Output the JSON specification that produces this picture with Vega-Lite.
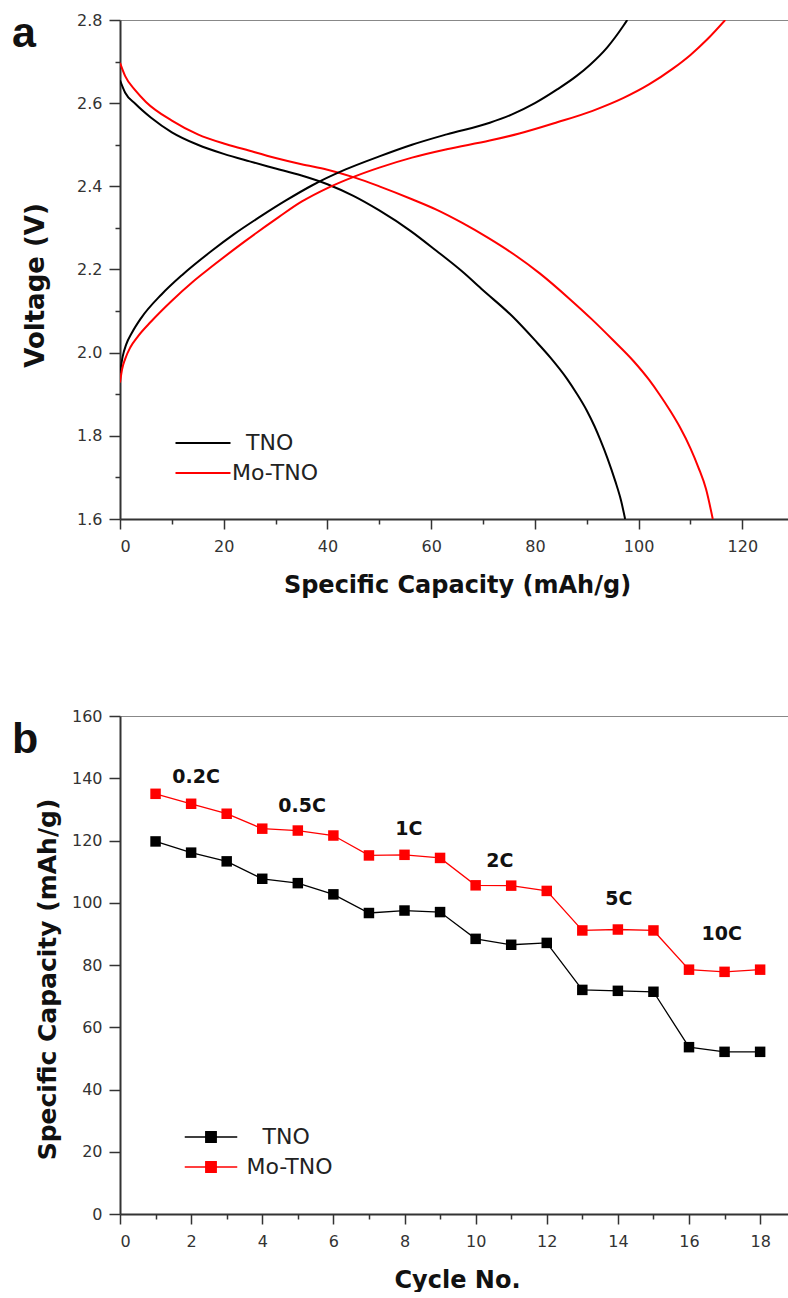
{
  "$schema": "https://vega.github.io/schema/vega-lite/v6.json",
  "background": "white",
  "padding": {"left": 12, "top": 12, "right": 0, "bottom": 0},
  "autosize": {"type": "pad"},
  "config": {
    "view": {"stroke": null},
    "axis": {
      "labelFont": "DejaVu Sans", "labelFontSize": 16, "labelColor": "#333333",
      "titleFont": "DejaVu Sans", "titleFontWeight": "bold", "titleColor": "#111111",
      "domainColor": "#333333", "domainWidth": 2, "tickColor": "#333333", "tickWidth": 1.5,
      "grid": false, "labelPadding": 9
    }
  },
  "datasets": {
    "curves": [
      {"sample": "TNO", "mode": "discharge", "capacity": 0, "voltage": 2.655},
      {"sample": "TNO", "mode": "discharge", "capacity": 1, "voltage": 2.625},
      {"sample": "TNO", "mode": "discharge", "capacity": 3, "voltage": 2.598},
      {"sample": "TNO", "mode": "discharge", "capacity": 6, "voltage": 2.565},
      {"sample": "TNO", "mode": "discharge", "capacity": 10, "voltage": 2.53},
      {"sample": "TNO", "mode": "discharge", "capacity": 15, "voltage": 2.5},
      {"sample": "TNO", "mode": "discharge", "capacity": 20, "voltage": 2.478},
      {"sample": "TNO", "mode": "discharge", "capacity": 25, "voltage": 2.46},
      {"sample": "TNO", "mode": "discharge", "capacity": 30, "voltage": 2.443},
      {"sample": "TNO", "mode": "discharge", "capacity": 35, "voltage": 2.426},
      {"sample": "TNO", "mode": "discharge", "capacity": 40, "voltage": 2.405},
      {"sample": "TNO", "mode": "discharge", "capacity": 45, "voltage": 2.377},
      {"sample": "TNO", "mode": "discharge", "capacity": 50, "voltage": 2.342},
      {"sample": "TNO", "mode": "discharge", "capacity": 56, "voltage": 2.293},
      {"sample": "TNO", "mode": "discharge", "capacity": 61, "voltage": 2.245},
      {"sample": "TNO", "mode": "discharge", "capacity": 66, "voltage": 2.195},
      {"sample": "TNO", "mode": "discharge", "capacity": 70, "voltage": 2.15},
      {"sample": "TNO", "mode": "discharge", "capacity": 75.6, "voltage": 2.088},
      {"sample": "TNO", "mode": "discharge", "capacity": 80, "voltage": 2.03},
      {"sample": "TNO", "mode": "discharge", "capacity": 83, "voltage": 1.988},
      {"sample": "TNO", "mode": "discharge", "capacity": 86.2, "voltage": 1.937},
      {"sample": "TNO", "mode": "discharge", "capacity": 88, "voltage": 1.903},
      {"sample": "TNO", "mode": "discharge", "capacity": 90, "voltage": 1.861},
      {"sample": "TNO", "mode": "discharge", "capacity": 91.5, "voltage": 1.823},
      {"sample": "TNO", "mode": "discharge", "capacity": 92.6, "voltage": 1.791},
      {"sample": "TNO", "mode": "discharge", "capacity": 94, "voltage": 1.746},
      {"sample": "TNO", "mode": "discharge", "capacity": 95.5, "voltage": 1.691},
      {"sample": "TNO", "mode": "discharge", "capacity": 96.6, "voltage": 1.645},
      {"sample": "TNO", "mode": "discharge", "capacity": 97.4, "voltage": 1.6},
      {"sample": "Mo-TNO", "mode": "discharge", "capacity": 0, "voltage": 2.697},
      {"sample": "Mo-TNO", "mode": "discharge", "capacity": 1, "voltage": 2.665},
      {"sample": "Mo-TNO", "mode": "discharge", "capacity": 3, "voltage": 2.63},
      {"sample": "Mo-TNO", "mode": "discharge", "capacity": 5, "voltage": 2.603},
      {"sample": "Mo-TNO", "mode": "discharge", "capacity": 10, "voltage": 2.558},
      {"sample": "Mo-TNO", "mode": "discharge", "capacity": 15, "voltage": 2.525},
      {"sample": "Mo-TNO", "mode": "discharge", "capacity": 20, "voltage": 2.503},
      {"sample": "Mo-TNO", "mode": "discharge", "capacity": 24, "voltage": 2.489},
      {"sample": "Mo-TNO", "mode": "discharge", "capacity": 30, "voltage": 2.468},
      {"sample": "Mo-TNO", "mode": "discharge", "capacity": 35, "voltage": 2.453},
      {"sample": "Mo-TNO", "mode": "discharge", "capacity": 40, "voltage": 2.44},
      {"sample": "Mo-TNO", "mode": "discharge", "capacity": 45.3, "voltage": 2.421},
      {"sample": "Mo-TNO", "mode": "discharge", "capacity": 50, "voltage": 2.4},
      {"sample": "Mo-TNO", "mode": "discharge", "capacity": 56.3, "voltage": 2.369},
      {"sample": "Mo-TNO", "mode": "discharge", "capacity": 61, "voltage": 2.344},
      {"sample": "Mo-TNO", "mode": "discharge", "capacity": 66, "voltage": 2.312},
      {"sample": "Mo-TNO", "mode": "discharge", "capacity": 71, "voltage": 2.276},
      {"sample": "Mo-TNO", "mode": "discharge", "capacity": 76, "voltage": 2.236},
      {"sample": "Mo-TNO", "mode": "discharge", "capacity": 81, "voltage": 2.19},
      {"sample": "Mo-TNO", "mode": "discharge", "capacity": 86.8, "voltage": 2.128},
      {"sample": "Mo-TNO", "mode": "discharge", "capacity": 91, "voltage": 2.08},
      {"sample": "Mo-TNO", "mode": "discharge", "capacity": 95, "voltage": 2.031},
      {"sample": "Mo-TNO", "mode": "discharge", "capacity": 99, "voltage": 1.98},
      {"sample": "Mo-TNO", "mode": "discharge", "capacity": 102, "voltage": 1.935},
      {"sample": "Mo-TNO", "mode": "discharge", "capacity": 104, "voltage": 1.9},
      {"sample": "Mo-TNO", "mode": "discharge", "capacity": 106, "voltage": 1.862},
      {"sample": "Mo-TNO", "mode": "discharge", "capacity": 108, "voltage": 1.82},
      {"sample": "Mo-TNO", "mode": "discharge", "capacity": 110, "voltage": 1.77},
      {"sample": "Mo-TNO", "mode": "discharge", "capacity": 111.5, "voltage": 1.725},
      {"sample": "Mo-TNO", "mode": "discharge", "capacity": 113, "voltage": 1.672},
      {"sample": "Mo-TNO", "mode": "discharge", "capacity": 114.3, "voltage": 1.6},
      {"sample": "TNO", "mode": "charge", "capacity": 0, "voltage": 1.951},
      {"sample": "TNO", "mode": "charge", "capacity": 0.5, "voltage": 1.99},
      {"sample": "TNO", "mode": "charge", "capacity": 1.2, "voltage": 2.02},
      {"sample": "TNO", "mode": "charge", "capacity": 2.3, "voltage": 2.048},
      {"sample": "TNO", "mode": "charge", "capacity": 4, "voltage": 2.082},
      {"sample": "TNO", "mode": "charge", "capacity": 8, "voltage": 2.14},
      {"sample": "TNO", "mode": "charge", "capacity": 12, "voltage": 2.187},
      {"sample": "TNO", "mode": "charge", "capacity": 17.7, "voltage": 2.245},
      {"sample": "TNO", "mode": "charge", "capacity": 22, "voltage": 2.285},
      {"sample": "TNO", "mode": "charge", "capacity": 27.4, "voltage": 2.33},
      {"sample": "TNO", "mode": "charge", "capacity": 32, "voltage": 2.366},
      {"sample": "TNO", "mode": "charge", "capacity": 37, "voltage": 2.402},
      {"sample": "TNO", "mode": "charge", "capacity": 43.4, "voltage": 2.44},
      {"sample": "TNO", "mode": "charge", "capacity": 50, "voltage": 2.472},
      {"sample": "TNO", "mode": "charge", "capacity": 56.3, "voltage": 2.5},
      {"sample": "TNO", "mode": "charge", "capacity": 63, "voltage": 2.525},
      {"sample": "TNO", "mode": "charge", "capacity": 71.3, "voltage": 2.553},
      {"sample": "TNO", "mode": "charge", "capacity": 75.6, "voltage": 2.573},
      {"sample": "TNO", "mode": "charge", "capacity": 80, "voltage": 2.6},
      {"sample": "TNO", "mode": "charge", "capacity": 84.3, "voltage": 2.633},
      {"sample": "TNO", "mode": "charge", "capacity": 88, "voltage": 2.665},
      {"sample": "TNO", "mode": "charge", "capacity": 90.6, "voltage": 2.692},
      {"sample": "TNO", "mode": "charge", "capacity": 94, "voltage": 2.735},
      {"sample": "TNO", "mode": "charge", "capacity": 97, "voltage": 2.785},
      {"sample": "TNO", "mode": "charge", "capacity": 97.8, "voltage": 2.8},
      {"sample": "Mo-TNO", "mode": "charge", "capacity": 0, "voltage": 1.928},
      {"sample": "Mo-TNO", "mode": "charge", "capacity": 0.4, "voltage": 1.96},
      {"sample": "Mo-TNO", "mode": "charge", "capacity": 1, "voltage": 1.985},
      {"sample": "Mo-TNO", "mode": "charge", "capacity": 2, "voltage": 2.013},
      {"sample": "Mo-TNO", "mode": "charge", "capacity": 3.5, "voltage": 2.04},
      {"sample": "Mo-TNO", "mode": "charge", "capacity": 6, "voltage": 2.075},
      {"sample": "Mo-TNO", "mode": "charge", "capacity": 10, "voltage": 2.125},
      {"sample": "Mo-TNO", "mode": "charge", "capacity": 14, "voltage": 2.17},
      {"sample": "Mo-TNO", "mode": "charge", "capacity": 17.7, "voltage": 2.207},
      {"sample": "Mo-TNO", "mode": "charge", "capacity": 24, "voltage": 2.267},
      {"sample": "Mo-TNO", "mode": "charge", "capacity": 30.6, "voltage": 2.326},
      {"sample": "Mo-TNO", "mode": "charge", "capacity": 35, "voltage": 2.363},
      {"sample": "Mo-TNO", "mode": "charge", "capacity": 40.2, "voltage": 2.397},
      {"sample": "Mo-TNO", "mode": "charge", "capacity": 45.3, "voltage": 2.424},
      {"sample": "Mo-TNO", "mode": "charge", "capacity": 50, "voltage": 2.445},
      {"sample": "Mo-TNO", "mode": "charge", "capacity": 56.3, "voltage": 2.469},
      {"sample": "Mo-TNO", "mode": "charge", "capacity": 63, "voltage": 2.489},
      {"sample": "Mo-TNO", "mode": "charge", "capacity": 71.3, "voltage": 2.51},
      {"sample": "Mo-TNO", "mode": "charge", "capacity": 77, "voltage": 2.527},
      {"sample": "Mo-TNO", "mode": "charge", "capacity": 84.3, "voltage": 2.554},
      {"sample": "Mo-TNO", "mode": "charge", "capacity": 91, "voltage": 2.581},
      {"sample": "Mo-TNO", "mode": "charge", "capacity": 97, "voltage": 2.612},
      {"sample": "Mo-TNO", "mode": "charge", "capacity": 102, "voltage": 2.645},
      {"sample": "Mo-TNO", "mode": "charge", "capacity": 106.6, "voltage": 2.683},
      {"sample": "Mo-TNO", "mode": "charge", "capacity": 110, "voltage": 2.716},
      {"sample": "Mo-TNO", "mode": "charge", "capacity": 113.2, "voltage": 2.753},
      {"sample": "Mo-TNO", "mode": "charge", "capacity": 116.7, "voltage": 2.8}
    ],
    "rate": [
      {"sample": "TNO", "cycle": 1, "capacity": 119.7},
      {"sample": "TNO", "cycle": 2, "capacity": 116.1},
      {"sample": "TNO", "cycle": 3, "capacity": 113.3},
      {"sample": "TNO", "cycle": 4, "capacity": 107.7},
      {"sample": "TNO", "cycle": 5, "capacity": 106.3},
      {"sample": "TNO", "cycle": 6, "capacity": 102.7},
      {"sample": "TNO", "cycle": 7, "capacity": 96.7},
      {"sample": "TNO", "cycle": 8, "capacity": 97.5},
      {"sample": "TNO", "cycle": 9, "capacity": 97.0},
      {"sample": "TNO", "cycle": 10, "capacity": 88.4},
      {"sample": "TNO", "cycle": 11, "capacity": 86.5},
      {"sample": "TNO", "cycle": 12, "capacity": 87.1},
      {"sample": "TNO", "cycle": 13, "capacity": 72.0},
      {"sample": "TNO", "cycle": 14, "capacity": 71.7},
      {"sample": "TNO", "cycle": 15, "capacity": 71.4},
      {"sample": "TNO", "cycle": 16, "capacity": 53.6},
      {"sample": "TNO", "cycle": 17, "capacity": 52.1},
      {"sample": "TNO", "cycle": 18, "capacity": 52.1},
      {"sample": "Mo-TNO", "cycle": 1, "capacity": 135.0},
      {"sample": "Mo-TNO", "cycle": 2, "capacity": 131.8},
      {"sample": "Mo-TNO", "cycle": 3, "capacity": 128.6},
      {"sample": "Mo-TNO", "cycle": 4, "capacity": 123.8},
      {"sample": "Mo-TNO", "cycle": 5, "capacity": 123.2},
      {"sample": "Mo-TNO", "cycle": 6, "capacity": 121.6},
      {"sample": "Mo-TNO", "cycle": 7, "capacity": 115.2},
      {"sample": "Mo-TNO", "cycle": 8, "capacity": 115.4},
      {"sample": "Mo-TNO", "cycle": 9, "capacity": 114.4},
      {"sample": "Mo-TNO", "cycle": 10, "capacity": 105.6},
      {"sample": "Mo-TNO", "cycle": 11, "capacity": 105.5},
      {"sample": "Mo-TNO", "cycle": 12, "capacity": 103.8},
      {"sample": "Mo-TNO", "cycle": 13, "capacity": 91.1},
      {"sample": "Mo-TNO", "cycle": 14, "capacity": 91.4},
      {"sample": "Mo-TNO", "cycle": 15, "capacity": 91.1},
      {"sample": "Mo-TNO", "cycle": 16, "capacity": 78.5},
      {"sample": "Mo-TNO", "cycle": 17, "capacity": 77.8},
      {"sample": "Mo-TNO", "cycle": 18, "capacity": 78.5}
    ],
    "rates": [
      {"label": "0.2C", "cycle": 2.14, "capacity": 140.3},
      {"label": "0.5C", "cycle": 5.12, "capacity": 131.1},
      {"label": "1C", "cycle": 8.12, "capacity": 123.6},
      {"label": "2C", "cycle": 10.68, "capacity": 113.4},
      {"label": "5C", "cycle": 14.03, "capacity": 101.2},
      {"label": "10C", "cycle": 16.92, "capacity": 89.9}
    ]
  },
  "spacing": 111,
  "resolve": {"scale": {"color": "independent"}, "legend": {"color": "independent"}},
  "vconcat": [
    {
      "width": 669,
      "height": 499,
      "title": {"text": "a", "anchor": "start", "frame": "group", "orient": "top", "offset": -78, "dx": -108, "baseline": "alphabetic", "font": "Liberation Sans", "fontSize": 43, "fontWeight": "bold", "color": "#111111"},
      "layer": [
        {
          "data": {"name": "curves"},
          "mark": {"type": "line", "strokeWidth": 2, "interpolate": "monotone", "clip": true},
          "encoding": {
            "x": {
              "field": "capacity", "type": "quantitative",
              "scale": {"domain": [0, 129], "nice": false, "zero": false},
              "axis": {
                "orient": "bottom",
                "values": [0, 10, 20, 30, 40, 50, 60, 70, 80, 90, 100, 110, 120],
                "labelExpr": "datum.value % 20 === 0 ? datum.label : ''",
                "tickSize": {"condition": {"test": "datum.value % 20 === 0", "value": 10}, "value": 5},
                "title": "Specific Capacity (mAh/g)", "titleFontSize": 24, "titlePadding": 19, "titleX": 337
              }
            },
            "y": {
              "field": "voltage", "type": "quantitative",
              "scale": {"domain": [1.6, 2.8], "nice": false, "zero": false},
              "axis": {
                "values": [1.6, 1.7, 1.8, 1.9, 2.0, 2.1, 2.2, 2.3, 2.4, 2.5, 2.6, 2.7, 2.8],
                "labelExpr": "round(datum.value * 10) % 2 === 0 ? format(datum.value, '.1f') : ''",
                "tickSize": {"condition": {"test": "round(datum.value * 10) % 2 === 0", "value": 11}, "value": 5},
                "labelPadding": 7,
                "title": "Voltage (V)", "titleFontSize": 26, "titlePadding": 28, "titleY": 265
              }
            },
            "color": {
              "field": "sample", "type": "nominal",
              "scale": {"domain": ["TNO", "Mo-TNO"], "range": ["#000000", "#ff0000"]},
              "legend": {
                "orient": "none", "legendX": 71, "legendY": 411, "title": null, "padding": 0,
                "symbolType": "M-2.5,0H2.5", "symbolSize": 484, "symbolStrokeWidth": 2,
                "labelFont": "DejaVu Sans", "labelFontSize": 22, "labelColor": "#222222",
                "labelOffset": 17, "rowPadding": 7,
                "encode": {"labels": {"update": {"dx": {"signal": "datum.value === 'TNO' ? 14 : 0"}}}}
              }
            },
            "detail": {"field": "mode", "type": "nominal"}
          }
        },
        {
          "data": {"values": [{"k": 1}]},
          "mark": {"type": "rule", "strokeOpacity": 0},
          "encoding": {
            "x": {"datum": 0, "type": "quantitative", "axis": {"orient": "top", "labels": false, "ticks": false, "title": null, "domainColor": "#888888", "domainWidth": 1}}
          }
        }
      ],
      "resolve": {"axis": {"x": "independent"}}
    },
    {
      "width": 670,
      "height": 498,
      "title": {"text": "b", "anchor": "start", "frame": "group", "orient": "top", "offset": -88, "dx": -108, "baseline": "alphabetic", "font": "Liberation Sans", "fontSize": 43, "fontWeight": "bold", "color": "#111111"},
      "layer": [
        {
          "data": {"name": "rate"},
          "mark": {"type": "line", "strokeWidth": 1.3},
          "encoding": {
            "x": {
              "field": "cycle", "type": "quantitative",
              "scale": {"domain": [0, 18.84], "nice": false, "zero": false},
              "axis": {
                "orient": "bottom",
                "values": [0, 1, 2, 3, 4, 5, 6, 7, 8, 9, 10, 11, 12, 13, 14, 15, 16, 17, 18],
                "labelExpr": "datum.value % 2 === 0 ? datum.label : ''",
                "tickSize": {"condition": {"test": "datum.value % 2 === 0", "value": 10}, "value": 5},
                "title": "Cycle No.", "titleFontSize": 24, "titlePadding": 19, "titleX": 337
              }
            },
            "y": {
              "field": "capacity", "type": "quantitative",
              "scale": {"domain": [0, 160], "nice": false},
              "axis": {
                "values": [0, 10, 20, 30, 40, 50, 60, 70, 80, 90, 100, 110, 120, 130, 140, 150, 160],
                "labelExpr": "datum.value % 20 === 0 ? datum.label : ''",
                "tickSize": {"condition": {"test": "datum.value % 20 === 0", "value": 11}, "value": 5},
                "labelPadding": 7,
                "title": "Specific Capacity (mAh/g)", "titleFontSize": 25, "titlePadding": 11, "titleY": 263
              }
            },
            "color": {
              "field": "sample", "type": "nominal",
              "scale": {"domain": ["TNO", "Mo-TNO"], "range": ["#000000", "#ff0000"]},
              "legend": {
                "orient": "none", "legendX": 79.5, "legendY": 409.5, "title": null, "padding": 0,
                "symbolType": "M-2.5,0H2.5M-0.5,-0.5H0.5V0.5H-0.5Z", "symbolSize": 441, "symbolStrokeWidth": 1.3, "symbolOpacity": 1,
                "labelFont": "DejaVu Sans", "labelFontSize": 22, "labelColor": "#222222",
                "labelOffset": 24, "rowPadding": 7,
                "encode": {
                  "symbols": {"update": {
                    "fill": {"signal": "datum.value === 'TNO' ? '#000000' : '#ff0000'"},
                    "stroke": {"signal": "datum.value === 'TNO' ? '#000000' : '#ff0000'"}
                  }},
                  "labels": {"update": {"dx": {"signal": "datum.value === 'TNO' ? 16 : 0"}}}
                }
              }
            }
          }
        },
        {
          "data": {"name": "rate"},
          "mark": {"type": "point", "shape": "square", "filled": true, "size": 110, "opacity": 1},
          "encoding": {
            "x": {"field": "cycle", "type": "quantitative", "axis": null},
            "y": {"field": "capacity", "type": "quantitative"},
            "color": {"field": "sample", "type": "nominal"}
          }
        },
        {
          "data": {"name": "rates"},
          "mark": {"type": "text", "font": "DejaVu Sans", "fontWeight": "bold", "fontSize": 19, "color": "#111111", "align": "center", "baseline": "middle"},
          "encoding": {
            "x": {"field": "cycle", "type": "quantitative", "axis": null},
            "y": {"field": "capacity", "type": "quantitative"},
            "text": {"field": "label"}
          }
        },
        {
          "data": {"values": [{"k": 1}]},
          "mark": {"type": "rule", "strokeOpacity": 0},
          "encoding": {
            "x": {"datum": 0, "type": "quantitative", "axis": {"orient": "top", "labels": false, "ticks": false, "title": null, "domainColor": "#888888", "domainWidth": 1}}
          }
        }
      ],
      "resolve": {"axis": {"x": "independent"}}
    }
  ]
}
